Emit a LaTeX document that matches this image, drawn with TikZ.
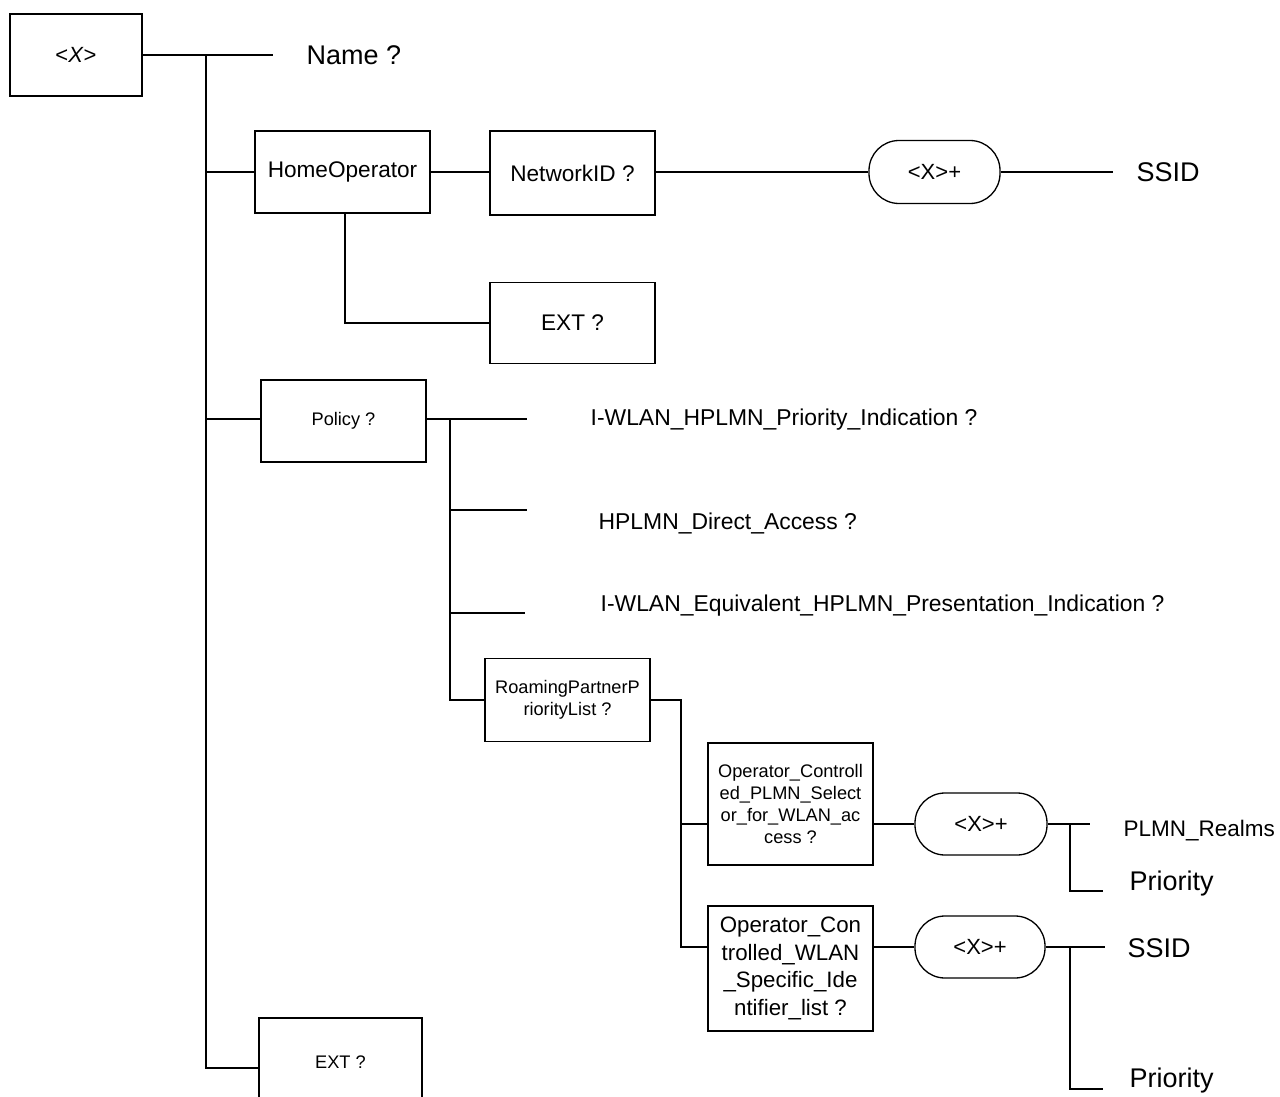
\documentclass[tikz,border=0pt]{standalone}
\usepackage{fontspec}
\setmainfont{Liberation Sans}
\usetikzlibrary{calc}
\newcommand\szBig{\fontsize{27}{32}\selectfont}
\newcommand\szMid{\fontsize{22.6}{27.7}\selectfont}
\newcommand\szSmall{\fontsize{18.2}{22}\selectfont}
\newcommand\szLong{\fontsize{22.9}{27}\selectfont}
\begin{document}
\begin{tikzpicture}[x=1pt,y=-1pt,line width=1.3pt,
  box/.style={draw,rectangle,inner sep=1pt,align=center},
  pill/.style={draw,rectangle,rounded corners=30pt,inner sep=0pt,font=\fontsize{22}{26}\selectfont},
  lbl/.style={anchor=west,inner sep=0pt,text height=#1,text depth=0pt}]
\clip (0,0) rectangle (1280,1097);
\fill[white] (0,0) rectangle (1280,1097);
% boxes
\node[box,minimum width=132pt,minimum height=82pt,font=\fontsize{22}{26}\selectfont] (root) at (76,55) {<\textit{X}>};
\node[box,minimum width=175pt,minimum height=82pt,font=\szMid] (home) at (342.5,172) {HomeOperator};
\node[box,minimum width=165pt,minimum height=84pt,font=\szMid] (netid) at (572.5,173) {NetworkID ?};
\node[pill,minimum width=131pt,minimum height=63pt] (pillA) at (934.5,172) {<X>+};
\node[box,minimum width=165pt,minimum height=81pt,font=\szMid] (extA) at (572.5,323) {EXT ?};
\node[box,minimum width=165pt,minimum height=82pt,font=\szSmall] (policy) at (343.5,421) {Policy ?};
\node[box,minimum width=165pt,minimum height=83pt,font=\szSmall] (roam) at (567.5,700) {RoamingPartnerP\\riorityList ?};
\node[box,minimum width=165pt,minimum height=122pt,font=\szSmall] (opplmn) at (790.5,804) {Operator\_Controll\\ed\_PLMN\_Select\\or\_for\_WLAN\_ac\\cess ?};
\node[box,minimum width=165pt,minimum height=125pt,font=\fontsize{22.3}{27.7}\selectfont] (opwlan) at (790.5,968.5) {Operator\_Con\\trolled\_WLAN\\\_Specific\_Ide\\ntifier\_list ?};
\node[pill,minimum width=132pt,minimum height=62pt] (pillB) at (981,824) {<X>+};
\node[pill,minimum width=130pt,minimum height=62pt] (pillC) at (980,947) {<X>+};
\node[box,minimum width=163pt,minimum height=100pt,font=\szSmall] (extB) at (340.5,1068) {\raisebox{11pt}{EXT ?}};
% text leaves
\node[lbl=19.3pt,font=\szBig] (name) at (306,55) {Name ?};
\node[lbl=19.3pt,font=\szBig] (ssidA) at (1136,172) {SSID};
\node[lbl=16.4pt,font=\szLong] (prio1) at (590,417) {I-WLAN\_HPLMN\_Priority\_Indication ?};
\node[lbl=16.4pt,font=\szLong] (direct) at (598,521) {HPLMN\_Direct\_Access ?};
\node[lbl=16.4pt,font=\szLong] (equiv) at (600,603) {I-WLAN\_Equivalent\_HPLMN\_Presentation\_Indication ?};
\node[lbl=16.1pt,font=\fontsize{22.5}{27}\selectfont] (realms) at (1123,828) {PLMN\_Realms};
\node[lbl=19.3pt,font=\szBig] (prioB) at (1129,881) {Priority};
\node[lbl=19.3pt,font=\szBig] (ssidC) at (1127,948) {SSID};
\node[lbl=19.3pt,font=\szBig] (prioC) at (1129,1078) {Priority};
% coordinates
\coordinate (t0) at (206,55);
\coordinate (nameEnd) at (273,55);
\coordinate (ssidEnd) at (1113,172);
\coordinate (polEnd) at (527,419);
\coordinate (p0) at (450,419);
\coordinate (dirEnd) at (527,510);
\coordinate (eqEnd) at (525,613);
\coordinate (r0) at (681,700);
\coordinate (bEnd) at (1090,824);
\coordinate (b0) at (1070,824);
\coordinate (bPrio) at (1103,891);
\coordinate (cEnd) at (1105,947);
\coordinate (c0) at (1070,947);
\coordinate (cPrio) at (1103,1089);
% connectors
\draw (root.east |- t0) -- (nameEnd);
\draw (t0) |- (extB.west);
\draw (t0 |- home) -- (home.west);
\draw (t0 |- polEnd) -- (policy.west |- polEnd);
\draw (home.east) -- (netid.west |- home);
\draw (netid.east |- pillA) -- (pillA.west);
\draw (pillA.east) -- (ssidEnd);
\draw (home.south -| 345,0) |- (extA.west);
\draw (policy.east |- polEnd) -- (polEnd);
\draw (p0) |- (roam.west);
\draw (p0 |- dirEnd) -- (dirEnd);
\draw (p0 |- eqEnd) -- (eqEnd);
\draw (roam.east |- r0) -- (r0) |- (opwlan.west |- pillC);
\draw (r0 |- pillB) -- (opplmn.west |- pillB);
\draw (opplmn.east |- pillB) -- (pillB.west);
\draw (opwlan.east |- pillC) -- (pillC.west);
\draw (pillB.east) -- (bEnd);
\draw (b0) |- (bPrio);
\draw (pillC.east) -- (cEnd);
\draw (c0) |- (cPrio);
\end{tikzpicture}
\end{document}
